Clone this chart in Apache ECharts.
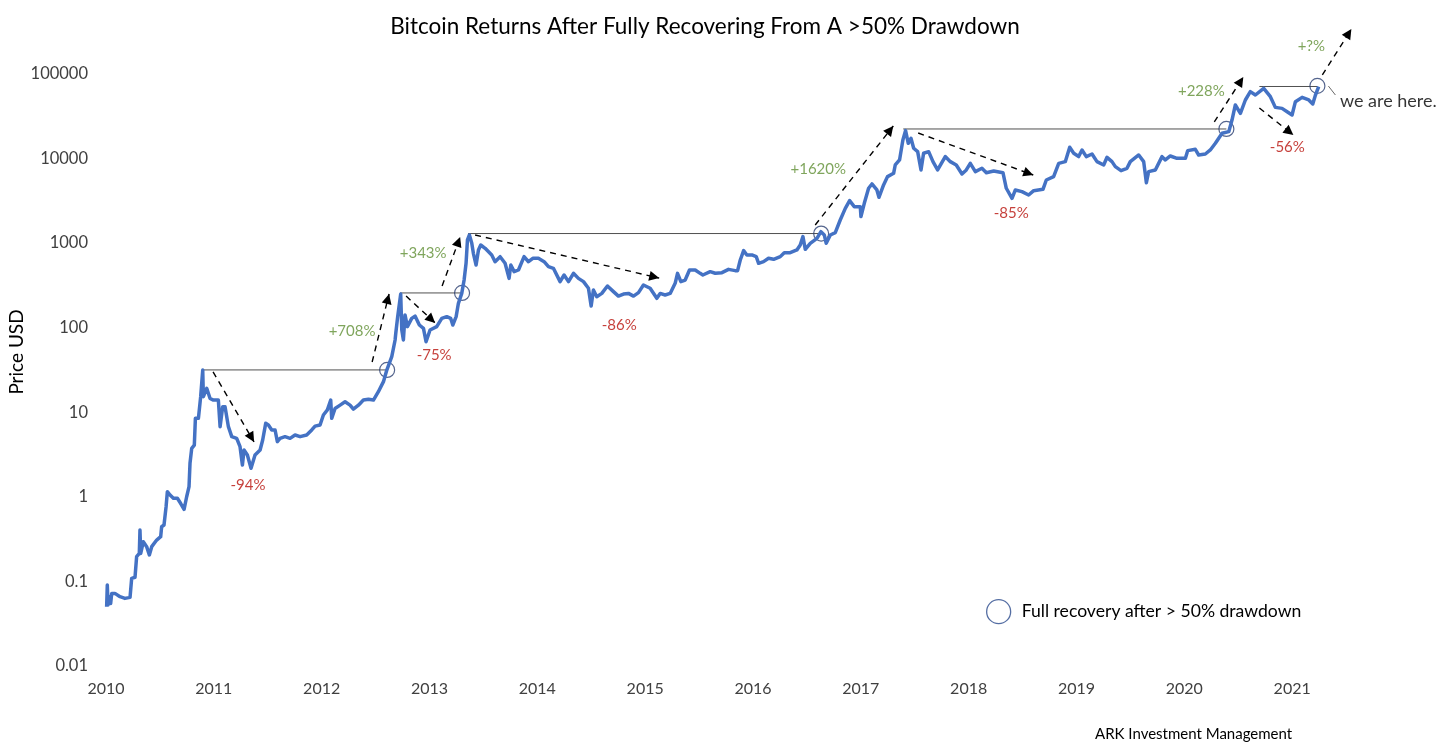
<!DOCTYPE html>
<html>
<head>
<meta charset="utf-8">
<title>Bitcoin Returns</title>
<script src="https://cdn.jsdelivr.net/npm/echarts@6/dist/echarts.min.js"></script>
<style>
html,body{margin:0;padding:0;background:#fff;}
#chart{width:1456px;height:754px;}
</style>
</head>
<body>
<div id="chart"></div>
<script>
// price trace, x is position on the year axis
var btcYears = [2010.006,2010.012,2010.019,2010.031,2010.043,2010.053,2010.083,2010.13,2010.176,2010.223,2010.238,2010.269,2010.284,2010.309,2010.315,2010.322,2010.346,2010.377,2010.402,2010.424,2010.47,2010.507,2010.516,2010.538,2010.557,2010.569,2010.594,2010.625,2010.662,2010.693,2010.724,2010.748,2010.77,2010.779,2010.795,2010.819,2010.829,2010.857,2010.878,2010.897,2010.903,2010.934,2010.965,2010.996,2011.042,2011.058,2011.082,2011.104,2011.135,2011.166,2011.212,2011.243,2011.265,2011.28,2011.311,2011.345,2011.382,2011.429,2011.453,2011.481,2011.506,2011.537,2011.568,2011.589,2011.614,2011.66,2011.707,2011.753,2011.8,2011.861,2011.908,2011.939,2011.985,2012.016,2012.053,2012.084,2012.093,2012.124,2012.171,2012.217,2012.263,2012.294,2012.341,2012.387,2012.434,2012.48,2012.526,2012.573,2012.604,2012.65,2012.681,
2012.687,2012.705,2012.721,2012.733,2012.743,2012.758,2012.773,2012.795,2012.835,2012.866,2012.906,2012.944,2012.968,2013.005,2013.067,2013.114,2013.16,2013.197,2013.216,2013.247,2013.268,2013.299,2013.321,2013.339,2013.352,2013.37,2013.392,2013.407,2013.432,2013.454,2013.475,2013.516,2013.577,2013.608,2013.655,2013.701,2013.738,2013.754,2013.785,2013.825,2013.877,2013.918,2013.958,2014.01,2014.063,2014.103,2014.149,2014.211,2014.248,2014.289,2014.335,2014.381,2014.428,2014.474,2014.499,2014.52,2014.551,2014.598,2014.65,2014.706,2014.752,2014.799,2014.845,2014.892,2014.938,2014.984,2015.046,2015.108,2015.139,2015.185,2015.232,2015.278,2015.3,2015.331,2015.371,2015.411,2015.464,2015.51,
2015.535,2015.603,2015.65,2015.712,2015.773,2015.835,2015.857,2015.882,2015.913,2015.943,2015.99,2016.03,2016.052,2016.098,2016.144,2016.191,2016.253,2016.29,2016.345,2016.407,2016.438,2016.463,2016.485,2016.531,2016.593,2016.63,2016.661,2016.679,2016.717,2016.763,2016.809,2016.856,2016.896,2016.939,2016.995,2017.001,2017.032,2017.072,2017.103,2017.149,2017.168,2017.211,2017.248,2017.304,2017.319,2017.359,2017.39,2017.415,2017.44,2017.465,2017.49,2017.527,2017.558,2017.582,2017.629,2017.669,2017.712,2017.783,2017.83,2017.885,2017.938,2017.978,2018.015,2018.062,2018.123,2018.164,2018.232,2018.318,2018.349,2018.402,2018.433,2018.494,2018.556,2018.603,2018.689,2018.72,2018.788,2018.835,2018.896,2018.937,2018.974,2019.02,
2019.051,2019.091,2019.144,2019.19,2019.252,2019.283,2019.329,2019.36,2019.413,2019.468,2019.499,2019.577,2019.623,2019.648,2019.669,2019.731,2019.793,2019.824,2019.87,2019.932,2020.01,2020.031,2020.102,2020.133,2020.195,2020.241,2020.288,2020.35,2020.412,2020.442,2020.473,2020.52,2020.566,2020.612,2020.659,2020.736,2020.798,2020.844,2020.906,2020.953,2020.999,2021.03,2021.092,2021.154,2021.191,2021.216,2021.246];
var btcPrices = [0.0476,0.086,0.0498,0.0625,0.052,0.0684,0.0684,0.0625,0.0597,0.0613,0.103,0.106,0.186,0.203,0.384,0.203,0.279,0.244,0.195,0.244,0.292,0.32,0.42,0.44,0.72,1.09,0.996,0.91,0.91,0.79,0.675,0.95,1.25,2.36,3.55,3.88,8.03,8.03,14.5,29.9,14.5,18.2,13.8,13.2,13.2,6.4,11,11,6.4,4.88,4.66,3.71,2.25,3.39,2.96,2.06,2.96,3.39,4.45,7.01,6.7,5.85,5.85,4.26,4.66,4.88,4.66,5.1,4.88,5.1,5.85,6.5,6.7,8.8,10.1,13.2,8.03,10.5,11.5,12.6,11.5,10.3,11.5,13.2,13.5,13.2,16.6,21.8,29.9,43,67.8,
81,128,128,237,89,67.8,134,97.5,122,130,102,93,64.7,89,97.5,122,128,122,102,128,184,241,347,547,1033,1183,942,718,522,785,900,822,685,571,655,547,363,522,436,456,655,571,626,626,571,499,477,332,398,332,416,363,332,277,171,264,220,241,295,253,224,237,241,224,246,303,277,211,241,231,241,317,416,332,347,456,456,416,
398,436,417,424,464,448,448,598,773,686,686,656,547,572,627,610,656,731,731,787,902,1130,800,942,1079,1294,1183,942,1183,1259,1778,2443,3013,2559,2559,1950,2799,4217,4744,4027,3296,4613,5794,6339,7955,9120,15700,20280,14350,16440,12530,11430,6950,10940,11430,8710,6950,10000,8710,7960,6220,6950,8320,6640,7270,6450,6760,6450,4220,3210,4030,3850,3510,3950,4100,5280,5794,8320,8710,12880,10940,10000,
11970,9980,10720,8710,7950,9800,8710,7600,6810,7260,8710,10440,8710,4910,6640,6940,9980,9120,10160,9530,9530,11750,12190,10440,10720,11970,14350,18840,19700,27060,40740,32460,46670,58580,53460,64120,51050,38160,37150,33960,31050,44590,50120,46670,41880,53460,67140];

var xTicks = [2010,2011,2012,2013,2014,2015,2016,2017,2018,2019,2020,2021];
var yTicks = [0.01,0.1,1,10,100,1000,10000,100000];

// [fromYear, fromPrice, toYear, toPrice]
var peakLines = [
    [2010.9,30,2012.607,30],
    [2012.727,244,2013.302,244],
    [2013.358,1230,2016.623,1230],
    [2017.393,21200,2020.39,21200],
    [2020.696,67400,2021.234,67400]
];
var riseArrows = [
    [2012.468,37.2,2012.625,237],
    [2013.117,295,2013.284,1119],
    [2016.577,1552,2017.301,22970],
    [2020.278,25640,2020.547,87300],
    [2021.28,92200,2021.549,322000]
];
var fallArrows = [
    [2010.993,28.4,2011.373,4.22],
    [2012.783,224,2013.052,108],
    [2013.423,1183,2015.13,366],
    [2017.532,19010,2018.599,6050],
    [2020.696,37500,2021.011,17990]
];
var pointerLine = [[2021.336,68200,2021.401,53460]];
var recoveries = [[2012.607,30],[2013.302,244],[2016.632,1230],[2020.39,21200],[2021.234,68500]];
var gainLabels = [[2012.282,86.5,'+708%'],[2012.941,724,'+343%'],[2016.605,7130,'+1620%'],[2020.158,59600,'+228%'],[2021.178,203000,'+?%']];
var lossLabels = [[2011.317,1.31,'-94%'],[2013.043,45,'-75%'],[2014.759,102,'-86%'],[2018.395,2150,'-85%'],[2020.955,12970,'-56%']];
var noteLabels = [[2021.892,45400,'we are here.']];

var fontName = 'Lato';
var legendName = 'Full recovery after > 50% drawdown';

var chart = echarts.init(document.getElementById('chart'));

// draws one straight piece between two data points, with optional arrow head
function segmentSeries(data, color, width, dashed, arrow){
    return {
        type:'custom',
        silent:true,
        clip:false,
        encode:{x:[0,2],y:[1,3]},
        data:data,
        renderItem:function(params,api){
            var a = api.coord([api.value(0),api.value(1)]);
            var b = api.coord([api.value(2),api.value(3)]);
            var children = [{
                type:'line',
                shape:{x1:a[0],y1:a[1],x2:b[0],y2:b[1]},
                style:{stroke:color,lineWidth:width,lineDash:dashed?[6,5]:null,fill:null}
            }];
            if(arrow){
                var ang = Math.atan2(b[1]-a[1],b[0]-a[0]);
                var len = 10, half = 5;
                var bx = b[0]-len*Math.cos(ang), by = b[1]-len*Math.sin(ang);
                children.push({
                    type:'polygon',
                    shape:{points:[
                        [b[0],b[1]],
                        [bx-half*Math.sin(ang),by+half*Math.cos(ang)],
                        [bx+half*Math.sin(ang),by-half*Math.cos(ang)]
                    ]},
                    style:{fill:color}
                });
            }
            return {type:'group',children:children};
        }
    };
}

function labelSeries(data, color, size){
    return {
        type:'scatter',
        silent:true,
        clip:false,
        symbolSize:0,
        data:data,
        label:{
            show:true,
            position:'inside',
            color:color,
            fontFamily:fontName,
            fontSize:size,
            formatter:function(p){ return p.value[2]; }
        }
    };
}

chart.setOption({
    animation:false,
    backgroundColor:'#ffffff',
    textStyle:{fontFamily:fontName},
    title:[
        {text:'Bitcoin Returns After Fully Recovering From A >50% Drawdown',left:700,top:10,textAlign:'center',
            textStyle:{fontFamily:fontName,fontSize:22.5,fontWeight:'normal',color:'#000'}},
        {text:'ARK Investment Management',left:1090,top:722,
            textStyle:{fontFamily:fontName,fontSize:15,fontWeight:'normal',color:'#000'}}
    ],
    legend:{
        left:981,
        top:594,
        selectedMode:false,
        itemWidth:24,
        itemHeight:24,
        textStyle:{fontFamily:fontName,fontSize:17.6,color:'#000',padding:[0,0,0,6]},
        data:[{name:legendName,icon:'circle',itemStyle:{color:'#fff',borderColor:'#2a4a8c',borderWidth:1.3}}]
    },
    grid:{left:106,right:56,top:72,bottom:90,outerBoundsMode:'none'},
    xAxis:{
        type:'value',
        min:2010,
        max:2022,
        interval:1,
        axisLine:{show:false},
        axisTick:{show:false},
        splitLine:{show:false},
        axisLabel:{
            customValues:xTicks,
            margin:17,
            color:'#404040',
            fontFamily:fontName,
            fontSize:16,
            formatter:function(v){ return String(v); }
        }
    },
    yAxis:{
        type:'log',
        logBase:10,
        min:0.01,
        max:100000,
        name:'Price USD',
        nameLocation:'middle',
        nameGap:80,
        nameRotate:90,
        nameMoveOverlap:false,
        nameTextStyle:{fontFamily:fontName,fontSize:19,color:'#000',padding:[0,0,0,32]},
        axisLine:{show:false},
        axisTick:{show:false},
        splitLine:{show:false},
        axisLabel:{
            customValues:yTicks,
            margin:18,
            formatter:function(v){ return '{t|'+v+'}'; },
            rich:{t:{color:'#404040',fontFamily:fontName,fontSize:16.5,padding:[4,0,0,0]}}
        }
    },
    series:[
        segmentSeries(peakLines,'#505050',1,false,false),
        {
            name:'Bitcoin',
            type:'line',
            silent:true,
            showSymbol:false,
            data:btcYears.map(function(y,i){ return [y,btcPrices[i]]; }),
            lineStyle:{color:'#4472c4',width:3.5,join:'round'}
        },
        segmentSeries(riseArrows,'#000',1.4,true,true),
        segmentSeries(fallArrows,'#000',1.4,true,true),
        segmentSeries(pointerLine,'#6a6a6a',1,false,false),
        {
            name:legendName,
            type:'scatter',
            silent:true,
            clip:false,
            symbol:'circle',
            symbolSize:15,
            data:recoveries,
            itemStyle:{color:'rgba(0,0,0,0)',borderColor:'#2a3f70',borderWidth:1.2}
        },
        labelSeries(gainLabels,'#5f8f33',15),
        labelSeries(lossLabels,'#b8100a',15),
        labelSeries(noteLabels,'#000',18)
    ]
});

window.addEventListener('resize',function(){
    chart.resize();
});
</script>
</body>
</html>
